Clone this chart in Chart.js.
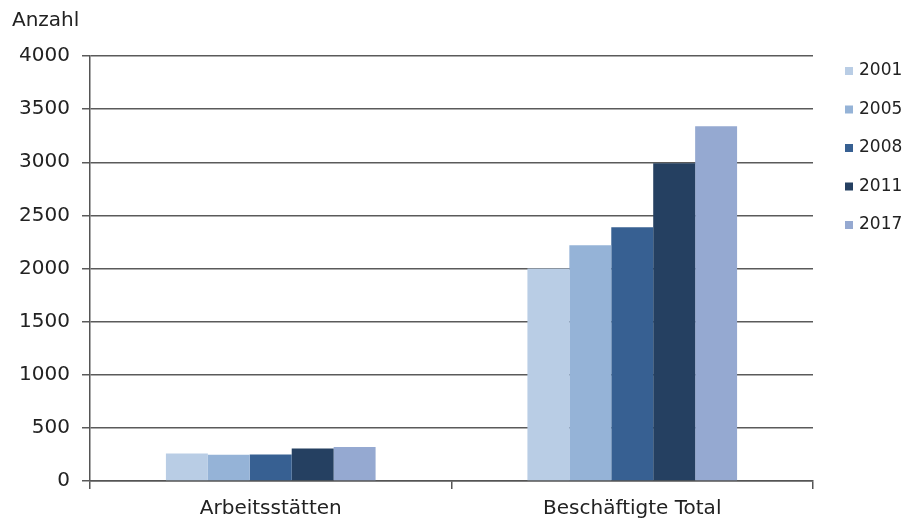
<!DOCTYPE html>
<html>
<head>
<meta charset="utf-8">
<script src="https://cdn.jsdelivr.net/npm/chart.js@4"></script>
<style>
  html, body { margin: 0; padding: 0; background: #fff; }
  #wrap { width: 908px; height: 518px; }
</style>
</head>
<body>
<div id="wrap"><canvas id="c" width="908" height="518"></canvas></div>
<script>
const categories = ['Arbeitsstätten', 'Beschäftigte Total'];
const years = ['2001', '2005', '2008', '2011', '2017'];
const values2001 = [260, 2000];
const values2005 = [248, 2220];
const values2008 = [250, 2388];
const values2011 = [305, 2990];
const values2017 = [320, 3340];
const yTicks = [0, 500, 1000, 1500, 2000, 2500, 3000, 3500, 4000];
const colors = ['#B9CDE5', '#95B3D7', '#376092', '#254061', '#95A9D1'];

const FONT = '"DejaVu Sans", Verdana, sans-serif';
const seriesValues = [values2001, values2005, values2008, values2011, values2017];

// Title above the value axis and the legend on the right
const decorations = {
  id: 'decorations',
  afterDraw(chart) {
    const ctx = chart.ctx;
    ctx.save();
    ctx.fillStyle = '#222';
    ctx.textBaseline = 'middle';
    ctx.textAlign = 'left';
    ctx.font = '20px ' + FONT;
    ctx.fillText('Anzahl', 12, 21);
    ctx.font = '17px ' + FONT;
    chart.data.datasets.forEach((ds, i) => {
      const y = 71 + i * 38.5;
      ctx.fillStyle = ds.backgroundColor;
      ctx.fillRect(845, y - 4, 8, 8);
      ctx.fillStyle = '#222';
      ctx.fillText(ds.label, 859, y);
    });
    ctx.restore();
  }
};

new Chart(document.getElementById('c'), {
  type: 'bar',
  data: {
    labels: categories,
    datasets: years.map((y, i) => ({
      label: y,
      data: seriesValues[i],
      backgroundColor: colors[i],
      borderWidth: 0
    }))
  },
  options: {
    responsive: false,
    animation: false,
    devicePixelRatio: 1,
    layout: { padding: { left: 0, right: 95, top: 56, bottom: 0 } },
    plugins: { legend: { display: false }, tooltip: { enabled: false } },
    datasets: { bar: { categoryPercentage: 0.58, barPercentage: 1.0 } },
    scales: {
      x: {
        grid: { display: true, drawOnChartArea: false, offset: true, color: '#555', lineWidth: 1.5, tickLength: 8 },
        border: { display: true, color: '#555', width: 1.5 },
        ticks: { color: '#222', font: { family: FONT, size: 20 }, padding: 8 },
        afterFit(scale) { scale.height = 37; }
      },
      y: {
        min: 0,
        max: 4000,
        afterBuildTicks(scale) { scale.ticks = yTicks.map(v => ({ value: v })); },
        grid: { color: '#5a5a5a', lineWidth: 1.5, tickLength: 8 },
        border: { display: true, color: '#555', width: 1.5 },
        ticks: {
          color: '#222',
          font: { family: FONT, size: 20 },
          padding: 12,
          callback: (v) => String(v)
        },
        afterFit(scale) { scale.width = 90; }
      }
    }
  },
  plugins: [decorations]
});
</script>
</body>
</html>
